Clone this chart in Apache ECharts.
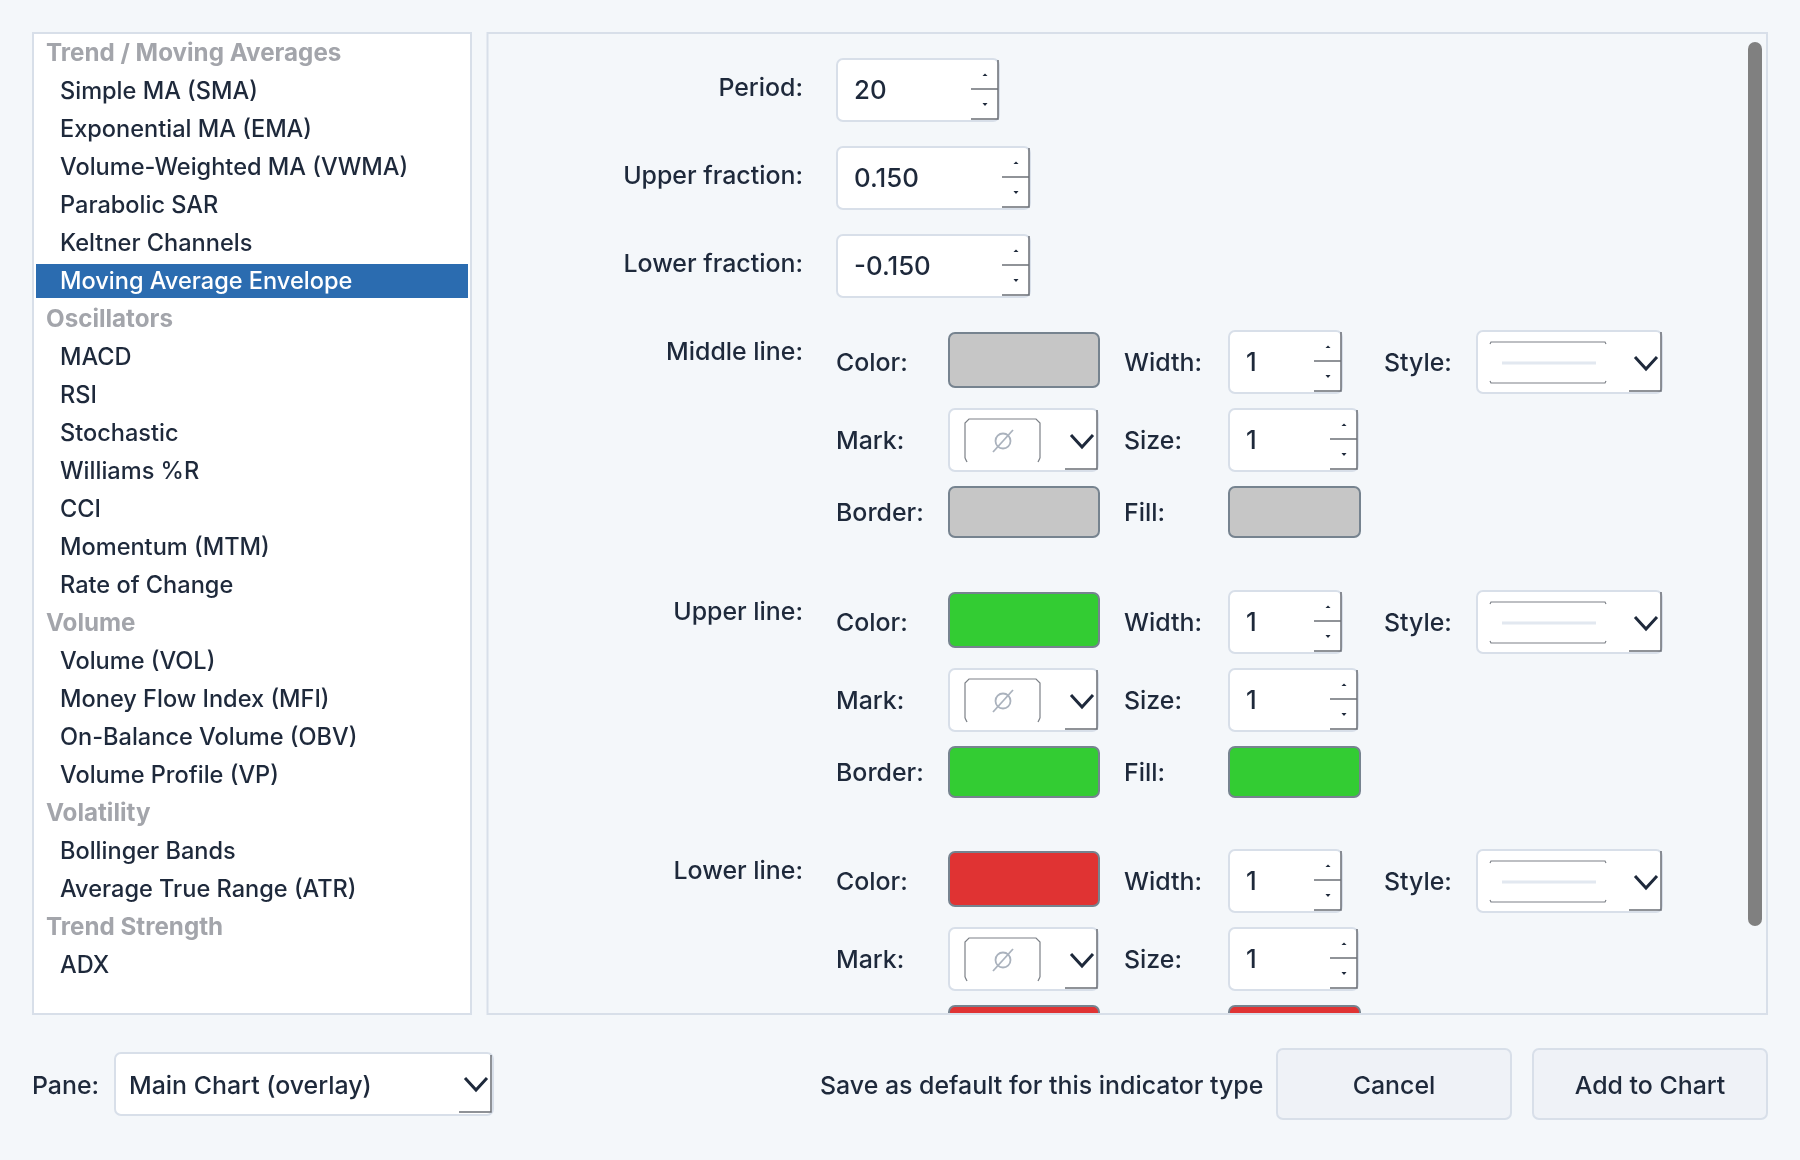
<!DOCTYPE html>
<html><head><meta charset="utf-8">
<style>html,body{margin:0;padding:0;background:#f4f7fa}#c{width:1800px;height:1160px}</style>
<script src="https://cdn.jsdelivr.net/npm/echarts@6/dist/echarts.min.js"></script>
</head><body><div id="c"></div>
<script>
// ---- content ----
const indicatorGroups = ["Trend / Moving Averages","Oscillators","Volume","Volatility","Trend Strength"];
const trendItems = ["Simple MA (SMA)","Exponential MA (EMA)","Volume-Weighted MA (VWMA)","Parabolic SAR","Keltner Channels","Moving Average Envelope"];
const oscillatorItems = ["MACD","RSI","Stochastic","Williams %R","CCI","Momentum (MTM)","Rate of Change"];
const volumeItems = ["Volume (VOL)","Money Flow Index (MFI)","On-Balance Volume (OBV)","Volume Profile (VP)"];
const volatilityItems = ["Bollinger Bands","Average True Range (ATR)"];
const strengthItems = ["ADX"];
const selectedItem = "Moving Average Envelope";
const paramLabels = ["Period:","Upper fraction:","Lower fraction:"];
const paramValues = ["20","0.150","-0.150"];
const lineLabels = ["Middle line:","Upper line:","Lower line:"];
const lineColors = ["#c6c6c6","#33cc33","#e03333"];
const lineWidths = ["1","1","1"];
const markSizes = ["1","1","1"];
const paneValue = "Main Chart (overlay)";
const saveLabel = "Save as default for this indicator type";
const buttonLabels = ["Cancel","Add to Chart"];

// ---- style ----
const FONT = 'Inter, "Noto Sans", sans-serif', FS = 24.9, FS_LIST = 23.55, FS_HEAD = 24.2, FS_NUM = 25.8;
const INK = '#1e293b', EDGE = '#d8dfe9', DARK = '#6b6f76', BG = '#f4f7fa';
const g = [];
const rect = (x,y,w,h,fill,stroke,lw,r,z) => g.push({type:'rect',shape:{x,y,width:w,height:h,r:r||0},style:{fill:fill||'transparent',stroke:stroke||null,lineWidth:lw||0},z:z||1});
const line = (pts,stroke,lw,z) => g.push({type:'polyline',shape:{points:pts},style:{stroke,lineWidth:lw,fill:null},z:z||2});
const tri = (pts,fill) => g.push({type:'polygon',shape:{points:pts},style:{fill},z:2});
const text = (x,y,s,o={}) => g.push({type:'text',x,y:y+(o.dy===undefined?2:o.dy),style:Object.assign({text:s,fill:INK,font:`${o.weight||500} ${o.size||FS}px ${FONT}`,textAlign:o.align||'left',textVerticalAlign:'middle'},o.fill?{fill:o.fill}:{}),z:3});

function spin(x,y,w,h,val){
  rect(x+1,y+1,w-2,h-2,'#fff',EDGE,2,6);
  const R=x+w-2, B=y+h-3, M=y+h/2-1;
  line([[R,y+2],[R,B],[R-27,B]],DARK,1.5);
  line([[R-27,M],[R,M]],DARK,1.5);
  const c=R-13;
  tri([[c-2.5,y+18],[c+2.5,y+18],[c,y+15.5]],INK);
  tri([[c-2.5,B-16],[c+2.5,B-16],[c,B-13]],INK);
  text(x+18,y+h/2,val,{size:FS_NUM,dy:1});
}
function dropBox(x,y,w,h,cOff){
  rect(x+1,y+1,w-2,h-2,'#fff',EDGE,2,6);
  const R=x+w-2, B=y+h-3;
  line([[R,y+2],[R,B],[R-32,B]],DARK,1.5);
  const c=R-cOff, m=y+h/2+1;
  line([[c-11,m-6],[c,m+6],[c+11,m-6]],INK,3);
}
function swatch(x,y,w,h,color){ rect(x+1,y+1,w-2,h-2,color,'#76838f',2,6); }

// ---- page ----
rect(33,33,438,981,'#fff',EDGE,2);
rect(36,264,432,34,'#2b6cb0');
const groups=[trendItems,oscillatorItems,volumeItems,volatilityItems,strengthItems];
let row=0;
const rowY=i=>52+i*38;
groups.forEach((items,k)=>{
  text(46,rowY(row++),indicatorGroups[k],{weight:700,fill:'#a3a5ab',size:FS_HEAD});
  items.forEach(it=>{ text(60,rowY(row++),it,it===selectedItem?{fill:'#fff',size:FS_LIST}:{size:FS_LIST}); });
});

rect(487,33,1280,981,BG);
// scalar parameters
const paramY=[58,146,234], paramW=[164,195,195];
paramLabels.forEach((l,i)=>{
  text(803,paramY[i]+29,l,{align:'right'});
  spin(836,paramY[i],paramW[i],64,paramValues[i]);
});
// line sections
const secOff=[0,260,519];
lineLabels.forEach((l,i)=>{
  const d=secOff[i], c=lineColors[i];
  text(803,351+d,l,{align:'right'});
  text(836,362+d,'Color:');
  swatch(948,332+d,152,56,c);
  text(1124,362+d,'Width:');
  spin(1228,330+d,115,64,lineWidths[i]);
  text(1384,362+d,'Style:');
  dropBox(1476,330+d,187,64,15);
  line([[1490,344+d],[1491,342+d],[1605,342+d],[1606,344+d]],'#7c8087',1.2);
  line([[1490,381+d],[1491,383+d],[1605,383+d],[1606,381+d]],'#7c8087',1.2);
  line([[1502,363+d],[1596,363+d]],'#e2e8f0',3);
  text(836,440+d,'Mark:');
  dropBox(948,408+d,151,64,15);
  line([[965,458+d],[965,423+d],[969,419+d],[1036,419+d],[1040,423+d],[1040,458+d]],'#7c8087',1.2);
  line([[965,458+d],[967,462+d]],'#7c8087',1.2);
  line([[1040,458+d],[1038,462+d]],'#7c8087',1.2);
  g.push({type:'circle',shape:{cx:1003,cy:441+d,r:7.5},style:{fill:null,stroke:'#aab2bd',lineWidth:1.8},z:2});
  line([[993,452+d],[1013,430+d]],'#aab2bd',1.8);
  text(1124,440+d,'Size:');
  spin(1228,408+d,131,64,markSizes[i]);
  if(487+d+52<1015){
    text(836,512+d,'Border:');
    text(1124,512+d,'Fill:');
  }
  swatch(948,486+d,152,Math.min(52,1020-(486+d)),c);
  swatch(1228,486+d,133,Math.min(52,1020-(486+d)),c);
});
// mask content overflow + panel border
rect(487,1015,1281,15,BG,null,0,0,4);
rect(487.5,33,1279.5,981,null,EDGE,2,0,5);
rect(1748,42,14,884,'#808080',null,0,7,5);

// footer
text(32,1084,'Pane:',{dy:2.5});
rect(115,1053,378,62,'#fff',EDGE,2,6);
line([[491,1055],[491,1112],[459,1112]],DARK,1.5);
line([[465,1078],[476,1090],[487,1078]],INK,3);
text(129,1084,paneValue,{dy:2.5});
text(820,1084,saveLabel,{dy:2.5});
[[1276,236],[1532,236]].forEach((b,i)=>{
  rect(b[0]+1,1049,b[1]-2,70,'#eff2f7',EDGE,2,6);
  text(b[0]+b[1]/2,1084,buttonLabels[i],{align:'center',dy:2.5});
});

const chart=echarts.init(document.getElementById('c'),null,{renderer:'canvas',width:1800,height:1160});
chart.setOption({animation:false,backgroundColor:BG,graphic:{elements:g}});
</script></body></html>
